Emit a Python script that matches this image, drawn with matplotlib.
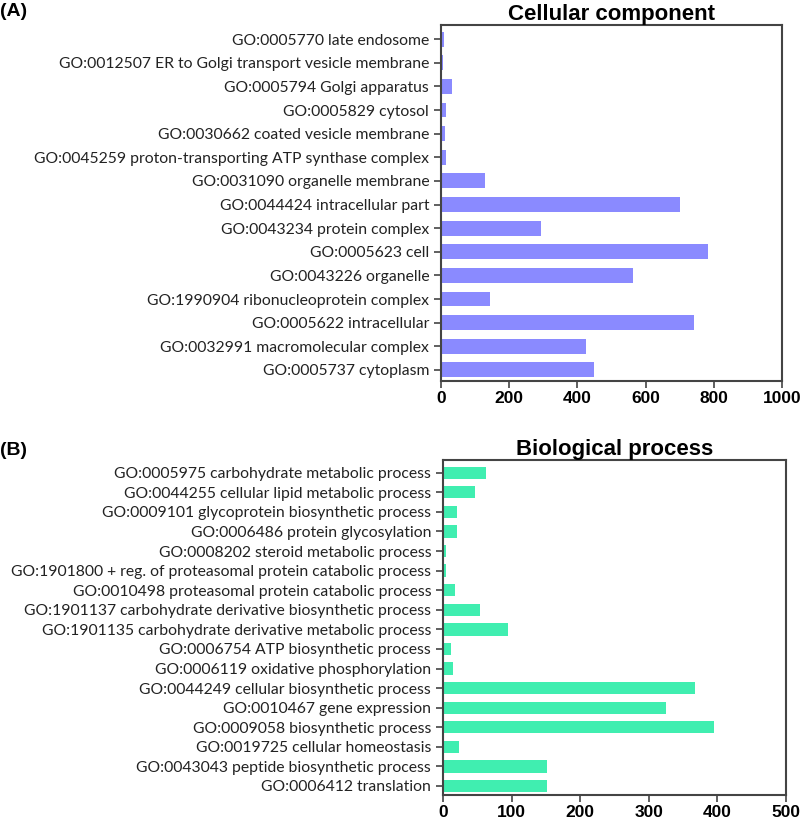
import matplotlib

matplotlib.use("Agg")
import matplotlib.pyplot as plt

cc_terms = [
    "GO:0005770 late endosome",
    "GO:0012507 ER to Golgi transport vesicle membrane",
    "GO:0005794 Golgi apparatus",
    "GO:0005829 cytosol",
    "GO:0030662 coated vesicle membrane",
    "GO:0045259 proton-transporting ATP synthase complex",
    "GO:0031090 organelle membrane",
    "GO:0044424 intracellular part",
    "GO:0043234 protein complex",
    "GO:0005623 cell",
    "GO:0043226 organelle",
    "GO:1990904 ribonucleoprotein complex",
    "GO:0005622 intracellular",
    "GO:0032991 macromolecular complex",
    "GO:0005737 cytoplasm",
]
cc_counts = [8, 7, 31, 14, 11, 14, 128, 700, 293, 782, 563, 145, 741, 426, 448]

bp_terms = [
    "GO:0005975 carbohydrate metabolic process",
    "GO:0044255 cellular lipid metabolic process",
    "GO:0009101 glycoprotein biosynthetic process",
    "GO:0006486 protein glycosylation",
    "GO:0008202 steroid metabolic process",
    "GO:1901800 + reg. of proteasomal protein catabolic process",
    "GO:0010498 proteasomal protein catabolic process",
    "GO:1901137 carbohydrate derivative biosynthetic process",
    "GO:1901135 carbohydrate derivative metabolic process",
    "GO:0006754 ATP biosynthetic process",
    "GO:0006119 oxidative phosphorylation",
    "GO:0044249 cellular biosynthetic process",
    "GO:0010467 gene expression",
    "GO:0009058 biosynthetic process",
    "GO:0019725 cellular homeostasis",
    "GO:0043043 peptide biosynthetic process",
    "GO:0006412 translation",
]
bp_counts = [63, 47, 21, 21, 5, 5, 17, 54, 95, 12, 15, 367, 325, 395, 24, 152, 151]

cc_xticks = [0, 200, 400, 600, 800, 1000]
bp_xticks = [0, 100, 200, 300, 400, 500]

W, H = 800, 823
fig = plt.figure(figsize=(W / 100, H / 100), dpi=100)


def panel(rect, terms, counts, color, title, xticks, top_pad, bottom_pad):
    l, t, r, b = rect
    ax = fig.add_axes([l / W, 1 - b / H, (r - l) / W, (b - t) / H])
    pos = list(range(len(terms)))
    ax.barh(pos, counts, height=0.63, color=color, edgecolor="none")
    ax.set_ylim(len(terms) - 1 + bottom_pad, -top_pad)
    ax.set_xlim(xticks[0], xticks[-1])
    ax.set_yticks(pos)
    ax.set_yticklabels(terms, fontfamily="Lato", fontsize=11.3, color="#222222")
    ax.set_xticks(xticks)
    ax.set_xticklabels([str(v) for v in xticks], fontfamily="Liberation Sans",
                       fontweight="bold", fontsize=12.5)
    ax.tick_params(axis="both", direction="out", length=5, width=1.2, color="#444444")
    ax.tick_params(axis="x", pad=2)
    for s in ax.spines.values():
        s.set_color("#444444")
        s.set_linewidth(1.5)
    ax.set_title(title, fontfamily="Liberation Sans", fontweight="bold", fontsize=16, pad=2)
    return ax


panel((441, 25, 782, 381), cc_terms, cc_counts, "#8A8AFF", "Cellular component",
      cc_xticks, 0.6, 0.47)
panel((443, 460, 786, 795), bp_terms, bp_counts, "#40EEB0", "Biological process",
      bp_xticks, 0.65, 0.46)

fig.text(0.0, 1 - 12 / H, "(A)", fontfamily="Liberation Sans", fontweight="bold",
         fontsize=14, va="center", ha="left")
fig.text(0.0, 1 - 450 / H, "(B)", fontfamily="Liberation Sans", fontweight="bold",
         fontsize=14, va="center", ha="left")

fig.savefig("out.png", dpi=100)
